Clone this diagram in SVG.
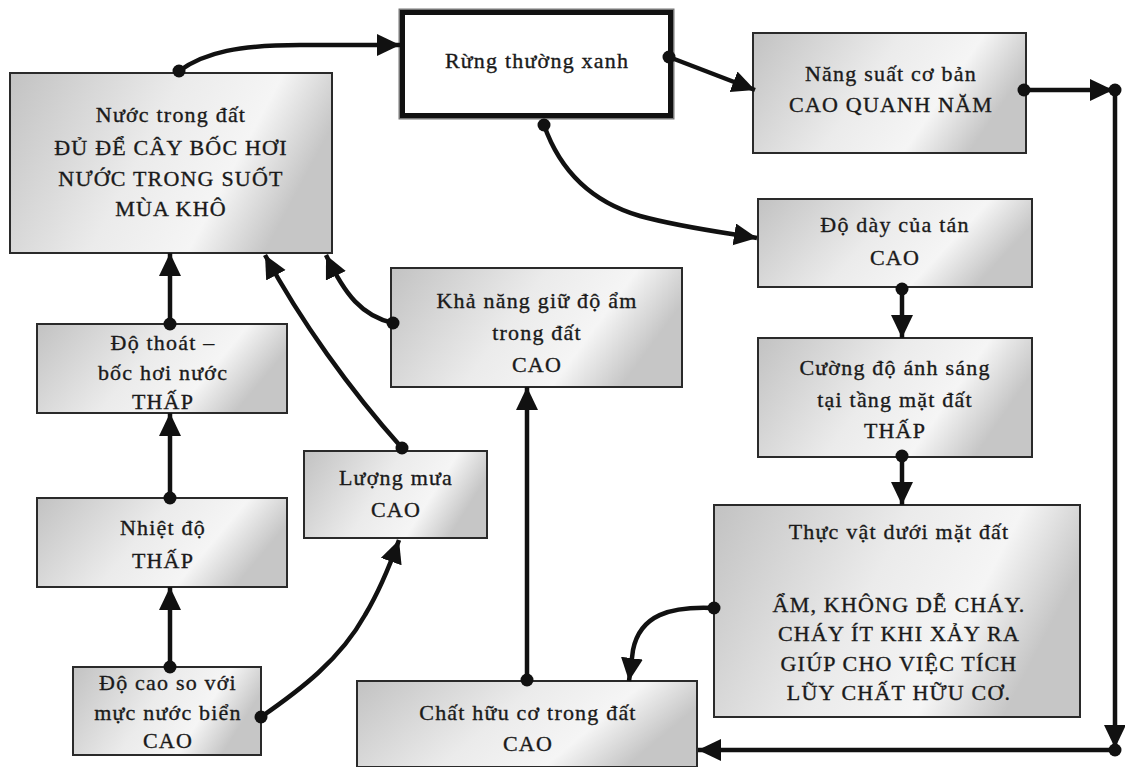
<svg xmlns="http://www.w3.org/2000/svg" width="1125" height="767" viewBox="0 0 1125 767">
<defs>
<linearGradient id="g" x1="0" y1="0" x2="1" y2="0.3">
<stop offset="0" stop-color="#c2c2c2"/>
<stop offset="0.5" stop-color="#ebebeb"/>
<stop offset="0.78" stop-color="#f5f5f5"/>
<stop offset="1" stop-color="#c6c6c6"/>
</linearGradient>
<marker id="ah" markerUnits="userSpaceOnUse" markerWidth="26" markerHeight="24" refX="23" refY="11" orient="auto">
<path d="M0,0 L23,11 L0,22 z" fill="#111"/>
</marker>
<style>
.box{fill:url(#g);stroke:#2a2a2a;stroke-width:2}
.t{font-family:"Liberation Serif","DejaVu Serif",serif;font-size:22px;letter-spacing:1.2px;fill:#1a1a1a;stroke:#1a1a1a;stroke-width:0.35;text-anchor:middle}
.c{fill:none;stroke:#111;stroke-width:4.5;marker-end:url(#ah)}
.d{fill:#111}
</style>
</defs>
<rect width="1125" height="767" fill="#fff"/>

<g id="n-nuoc">
<rect class="box" x="10" y="73" width="322" height="180"/>
<text class="t" x="171" y="122">Nước trong đất</text>
<text class="t" x="171" y="155">ĐỦ ĐỂ CÂY BỐC HƠI</text>
<text class="t" x="171" y="186">NƯỚC TRONG SUỐT</text>
<text class="t" x="171" y="216">MÙA KHÔ</text>
</g>

<g id="n-rung">
<rect x="399.5" y="9.5" width="274" height="109" fill="none" stroke="#777" stroke-width="2"/>
<rect x="402.5" y="12.5" width="268" height="103" fill="#fff" stroke="#111" stroke-width="5"/>
<text class="t" x="537" y="68">Rừng thường xanh</text>
</g>

<g id="n-nangsuat">
<rect class="box" x="753" y="33" width="273" height="120"/>
<text class="t" x="891" y="81">Năng suất cơ bản</text>
<text class="t" x="891" y="112">CAO QUANH NĂM</text>
</g>

<g id="n-dodaytan">
<rect class="box" x="758" y="199" width="274" height="88"/>
<text class="t" x="895" y="232">Độ dày của tán</text>
<text class="t" x="895" y="265">CAO</text>
</g>

<g id="n-cuongdo">
<rect class="box" x="758" y="338" width="274" height="119"/>
<text class="t" x="895" y="375">Cường độ ánh sáng</text>
<text class="t" x="895" y="407">tại tầng mặt đất</text>
<text class="t" x="895" y="438">THẤP</text>
</g>

<g id="n-thucvat">
<rect class="box" x="714" y="505" width="366" height="212"/>
<text class="t" x="899" y="539">Thực vật dưới mặt đất</text>
<text class="t" x="899" y="612">ẨM, KHÔNG DỄ CHÁY.</text>
<text class="t" x="899" y="641">CHÁY ÍT KHI XẢY RA</text>
<text class="t" x="899" y="671">GIÚP CHO VIỆC TÍCH</text>
<text class="t" x="899" y="700">LŨY CHẤT HỮU CƠ.</text>
</g>

<g id="n-chathuuco">
<rect class="box" x="357" y="681" width="340" height="86"/>
<text class="t" x="528" y="720">Chất hữu cơ trong đất</text>
<text class="t" x="528" y="751">CAO</text>
</g>

<g id="n-khanang">
<rect class="box" x="391" y="268" width="291" height="119"/>
<text class="t" x="537" y="308">Khả năng giữ độ ẩm</text>
<text class="t" x="537" y="340">trong đất</text>
<text class="t" x="537" y="372">CAO</text>
</g>

<g id="n-luongmua">
<rect class="box" x="304" y="451" width="183" height="87"/>
<text class="t" x="396" y="485">Lượng mưa</text>
<text class="t" x="396" y="517">CAO</text>
</g>

<g id="n-dothoat">
<rect class="box" x="37" y="324" width="250" height="89"/>
<text class="t" x="163" y="350">Độ thoát –</text>
<text class="t" x="163" y="380">bốc hơi nước</text>
<text class="t" x="163" y="409">THẤP</text>
</g>

<g id="n-nhietdo">
<rect class="box" x="37" y="498" width="250" height="89"/>
<text class="t" x="163" y="535">Nhiệt độ</text>
<text class="t" x="163" y="568">THẤP</text>
</g>

<g id="n-docao">
<rect class="box" x="73" y="667" width="188" height="88"/>
<text class="t" x="168" y="690">Độ cao so với</text>
<text class="t" x="168" y="720">mực nước biển</text>
<text class="t" x="168" y="748">CAO</text>
</g>

<g id="connectors">
<path class="c" d="M179,71 C205,52 240,45 300,45 L400,45"/>
<circle class="d" cx="179" cy="71" r="6.5"/>
<path class="c" d="M669,57 L755,90"/>
<circle class="d" cx="669" cy="57" r="6.5"/>
<path class="c" d="M544,125 C558,165 585,200 640,216 C680,227 720,232 757,238"/>
<circle class="d" cx="544" cy="125" r="6.5"/>
<path class="c" d="M1024,90 L1113,90"/>
<circle class="d" cx="1024" cy="90" r="6.5"/>
<circle class="d" cx="1115" cy="90" r="6.5"/>
<path class="c" d="M1115,90 L1115,748"/>
<circle class="d" cx="1115" cy="750" r="6.5"/>
<path class="c" d="M1115,750 L698,750"/>
<path class="c" d="M902,289 L902,338"/>
<circle class="d" cx="902" cy="289" r="6.5"/>
<path class="c" d="M902,456 L902,505"/>
<circle class="d" cx="902" cy="456" r="6.5"/>
<path class="c" d="M714,608 C670,606 640,615 633,650 L629,681"/>
<circle class="d" cx="714" cy="608" r="6.5"/>
<path class="c" d="M527,680 L527,387"/>
<circle class="d" cx="527" cy="680" r="6.5"/>
<path class="c" d="M393,323 C362,316 345,295 326,255"/>
<circle class="d" cx="393" cy="323" r="6.5"/>
<path class="c" d="M402,448 C350,390 300,320 265,255"/>
<circle class="d" cx="402" cy="448" r="6.5"/>
<path class="c" d="M170,324 L170,253"/>
<circle class="d" cx="170" cy="324" r="6.5"/>
<path class="c" d="M170,498 L170,413"/>
<circle class="d" cx="170" cy="498" r="6.5"/>
<path class="c" d="M170,667 L170,587"/>
<circle class="d" cx="170" cy="667" r="6.5"/>
<path class="c" d="M261,717 C300,690 340,660 365,615 C380,590 390,565 399,540"/>
<circle class="d" cx="261" cy="717" r="6.5"/>
</g>
</svg>
